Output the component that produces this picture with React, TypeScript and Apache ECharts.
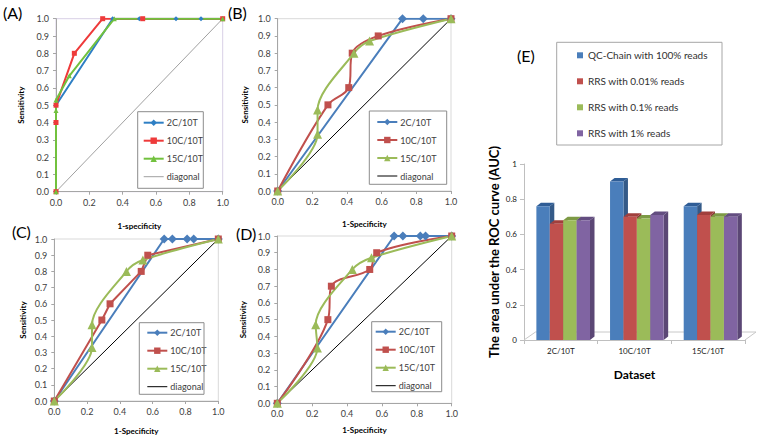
import React, { useEffect, useRef } from 'react';
import * as echarts from 'echarts';

const FONT = 'Lato, "Open Sans", sans-serif';

// ---- ROC data (1-specificity, sensitivity) ----
const A_2C_x = [0, 0, 0.34, 0.5, 0.72, 0.87, 1.0];
const A_2C_y = [0, 0.5, 1.0, 1.0, 1.0, 1.0, 1.0];
const A_10C_x = [0, 0, 0, 0.11, 0.28, 0.52, 1.0];
const A_10C_y = [0, 0.4, 0.5, 0.8, 1.0, 1.0, 1.0];
const A_15C_x = [0, 0, 0, 0.08, 0.35, 1.0];
const A_15C_y = [0, 0.47, 0.53, 0.67, 1.0, 1.0];

const B_2C_x = [0, 0.72, 0.84, 1.0];
const B_2C_y = [0, 1.0, 1.0, 1.0];
const B_10C_x = [0, 0.29, 0.41, 0.43, 0.58, 1.0];
const B_10C_y = [0, 0.5, 0.6, 0.8, 0.9, 1.0];
const B_15C_x = [0, 0.23, 0.23, 0.44, 0.53, 1.0];
const B_15C_y = [0, 0.33, 0.47, 0.8, 0.87, 1.0];

const C_2C_x = [0, 0.67, 0.72, 0.81, 0.85, 1.0];
const C_2C_y = [0, 1.0, 1.0, 1.0, 1.0, 1.0];
const C_10C_x = [0, 0.29, 0.34, 0.53, 0.57, 1.0];
const C_10C_y = [0, 0.5, 0.6, 0.8, 0.9, 1.0];
const C_15C_x = [0, 0.23, 0.23, 0.44, 0.54, 1.0];
const C_15C_y = [0, 0.33, 0.47, 0.8, 0.87, 1.0];

const D_2C_x = [0, 0.67, 0.72, 0.82, 0.85, 1.0];
const D_2C_y = [0, 1.0, 1.0, 1.0, 1.0, 1.0];
const D_10C_x = [0, 0.29, 0.31, 0.53, 0.57, 1.0];
const D_10C_y = [0, 0.5, 0.7, 0.8, 0.9, 1.0];
const D_15C_x = [0, 0.23, 0.22, 0.43, 0.54, 1.0];
const D_15C_y = [0, 0.33, 0.47, 0.8, 0.87, 1.0];

const diagX = [0, 1];
const diagY = [0, 1];

const rocNames = ['2C/10T', '10C/10T', '15C/10T', 'diagonal'];

// ---- AUC data ----
const datasets = ['2C/10T', '10C/10T', '15C/10T'];
const aucNames = ['QC-Chain with 100% reads', 'RRS with 0.01% reads', 'RRS with 0.1% reads', 'RRS with 1% reads'];
const aucQC = [0.76, 0.9, 0.76];
const aucRRS001 = [0.66, 0.7, 0.71];
const aucRRS01 = [0.68, 0.69, 0.7];
const aucRRS1 = [0.68, 0.71, 0.7];

const A_BLUE = '#2e7fc4';
const A_RED = '#ee3a3a';
const A_GREEN = '#72c13e';
const BLUE = '#4a7ebb';
const RED = '#c0504d';
const GREEN = '#9bbb59';

const barFront = ['#4a7ebb', '#c0504d', '#9bbb59', '#8064a2'];
const barSide = ['#345a88', '#8a3836', '#718b3f', '#5b4775'];
const barTop = ['#2f5d96', '#a13f3c', '#7d9a45', '#634d80'];

const grids = [
  { left: 56, top: 18.7, width: 166.7, height: 173 },
  { left: 277.7, top: 18.7, width: 173.3, height: 172.3 },
  { left: 54.3, top: 239, width: 164, height: 162 },
  { left: 277.3, top: 236, width: 174.4, height: 167.3 },
];

// legend frames (x, y, w, h)
const legendBoxes = [
  [137.7, 111.7, 65.6, 76.6],
  [369.3, 111, 77.4, 73.3],
  [139.3, 322.7, 64.7, 71.6],
  [371.7, 321.7, 70, 70],
  [556.7, 42.3, 165.3, 102.7],
];

function rocX(gi: number, name: string, nameGap: number) {
  return {
    type: 'value', gridIndex: gi, min: 0, max: 1, interval: 0.2,
    name, nameLocation: 'middle', nameGap,
    nameTextStyle: { fontFamily: FONT, fontSize: 8, fontWeight: 'bold', color: '#000' },
    axisLine: { show: true, lineStyle: { color: '#a6a6a6' } },
    axisTick: { show: true, length: 3, lineStyle: { color: '#a6a6a6' } },
    axisLabel: { fontFamily: FONT, fontSize: 9, color: '#404040', margin: 6, formatter: (v: number) => v.toFixed(1) },
    splitLine: { show: false },
  };
}
function rocY(gi: number, nameGap: number) {
  return {
    type: 'value', gridIndex: gi, min: 0, max: 1, interval: 0.1,
    name: 'Sensitivity', nameLocation: 'middle', nameGap, nameRotate: 90,
    nameTextStyle: { fontFamily: FONT, fontSize: 8, fontWeight: 'bold', color: '#000' },
    axisLine: { show: true, lineStyle: { color: '#a6a6a6' } },
    axisTick: { show: true, length: 3, lineStyle: { color: '#a6a6a6' } },
    axisLabel: { fontFamily: FONT, fontSize: 9, color: '#404040', margin: 7, formatter: (v: number) => v.toFixed(1) },
    splitLine: { show: false },
  };
}
function roc(name: string, gi: number, xs: number[], ys: number[], color: string, symbol: string, size: number, smooth: number | boolean, width = 2) {
  return {
    type: 'line', name, xAxisIndex: gi, yAxisIndex: gi,
    data: xs.map((x, i) => [x, ys[i]]),
    symbol, symbolSize: size, smooth, showSymbol: symbol !== 'none',
    lineStyle: { color, width },
    itemStyle: { color },
    z: name === 'diagonal' ? 1 : 3,
  };
}
function rocLegend(left: number, top: number, cols: string[], diag: string, pad: number[]) {
  return {
    orient: 'vertical', left, top,
    padding: pad, itemGap: 8, itemWidth: 20, itemHeight: 8,
    borderWidth: 0,
    textStyle: { fontFamily: FONT, fontSize: 9, color: '#404040', lineHeight: 10, padding: [0, 0, 0, -2] },
    data: [
      { name: rocNames[0], itemStyle: { color: cols[0] }, lineStyle: { color: cols[0] } },
      { name: rocNames[1], itemStyle: { color: cols[1] }, lineStyle: { color: cols[1] } },
      { name: rocNames[2], itemStyle: { color: cols[2] }, lineStyle: { color: cols[2] } },
      { name: rocNames[3], itemStyle: { color: diag, opacity: 0 }, lineStyle: { color: diag, width: 1 } },
    ],
    selectedMode: false,
  };
}

const DX = 4.5;
const DY = -3.5;

function bar3d(k: number, name: string, vals: number[]) {
  return {
    type: 'custom', name, xAxisIndex: 4, yAxisIndex: 4,
    itemStyle: { color: barFront[k] },
    data: vals.map((v, i) => [i, v]),
    z: 3,
    renderItem: (params: any, api: any) => {
      const ci = api.value(0);
      const v = api.value(1);
      const base = api.coord([ci, 0]);
      const top = api.coord([ci, v]);
      const band = api.size([1, 0])[0];
      const w = band * 0.182;
      const x = base[0] - band * 0.332 + k * w;
      const yb = base[1];
      const yt = top[1];
      return {
        type: 'group',
        children: [
          { type: 'polygon', shape: { points: [[x + w, yt], [x + w + DX, yt + DY], [x + w + DX, yb + DY], [x + w, yb]] }, style: { fill: barSide[k] } },
          { type: 'polygon', shape: { points: [[x, yt], [x + DX, yt + DY], [x + w + DX, yt + DY], [x + w, yt]] }, style: { fill: barTop[k] } },
          { type: 'rect', shape: { x, y: yt, width: w, height: yb - yt }, style: { fill: barFront[k] } },
        ],
      };
    },
  };
}

const floorSeries = {
  type: 'custom', name: 'floor', xAxisIndex: 4, yAxisIndex: 4, z: 1,
  data: [[0, 0]],
  renderItem: (params: any) => {
    const cs = params.coordSys;
    const yb = cs.y + cs.height;
    return {
      type: 'polyline',
      shape: { points: [[cs.x, yb], [cs.x + 11.5, yb - 8], [cs.x + cs.width + 11, yb - 8], [cs.x + cs.width, yb]] },
      style: { stroke: '#c8c8c8', fill: 'none', lineWidth: 1 },
    };
  },
};

export default function App() {
  const ref = useRef<HTMLDivElement>(null);
  useEffect(() => {
    if (!ref.current) return;
    const chart = echarts.init(ref.current, null, { renderer: 'svg' });
    const frames = legendBoxes.map((b, i) => ({
      type: 'rect', x: b[0], y: b[1], z: 10,
      shape: { width: b[2], height: b[3] },
      style: { fill: 'none', stroke: i === 4 ? '#a6a6a6' : '#8c8c8c', lineWidth: 1 },
    }));
    const option: any = {
      animation: false,
      backgroundColor: '#fff',
      grid: [
        { ...grids[0], show: true, borderColor: '#d8cfe6', borderWidth: 1 },
        { ...grids[1], show: true, borderColor: '#d9d9d9', borderWidth: 1 },
        { ...grids[2], show: true, borderColor: '#d9d9d9', borderWidth: 1 },
        { ...grids[3], show: true, borderColor: '#d9d9d9', borderWidth: 1 },
        { left: 524, top: 164, width: 221, height: 176 },
      ],
      xAxis: [
        rocX(0, '1-specificity', 30),
        rocX(1, '1-Specificity', 29),
        rocX(2, '1-Specificity', 26),
        rocX(3, '1-Specificity', 23),
        {
          type: 'category', gridIndex: 4, data: datasets,
          name: 'Dataset', nameLocation: 'middle', nameGap: 28,
          nameTextStyle: { fontFamily: FONT, fontSize: 12, fontWeight: 'bold', color: '#000' },
          axisLine: { show: true, lineStyle: { color: '#bfbfbf' } },
          axisTick: { show: true, length: 4, alignWithLabel: false, lineStyle: { color: '#bfbfbf' } },
          axisLabel: { fontFamily: FONT, fontSize: 8, color: '#202020', margin: 7 },
        },
      ],
      yAxis: [
        rocY(0, 31),
        rocY(1, 29),
        rocY(2, 27),
        rocY(3, 30),
        {
          type: 'value', gridIndex: 4, min: 0, max: 1, interval: 0.2,
          name: 'The area under the ROC curve (AUC)', nameLocation: 'middle', nameGap: 24, nameRotate: 90,
          nameTextStyle: { fontFamily: FONT, fontSize: 13, fontWeight: 'bold', color: '#000' },
          axisLine: { show: true, lineStyle: { color: '#bfbfbf' } },
          axisTick: { show: true, length: 4, lineStyle: { color: '#bfbfbf' } },
          axisLabel: { fontFamily: FONT, fontSize: 8, color: '#202020', margin: 7 },
          splitLine: { show: false },
        },
      ],
      legend: [
        rocLegend(137.7, 111.7, [A_BLUE, A_RED, A_GREEN], '#a0a0a0', [6, 8, 7, 5]),
        rocLegend(369.3, 111, [BLUE, RED, GREEN], '#000', [6, 8, 7, 7]),
        rocLegend(139.3, 322.7, [BLUE, RED, GREEN], '#000', [5, 8, 5, 7]),
        rocLegend(371.7, 321.7, [BLUE, RED, GREEN], '#000', [5, 8, 5, 3]),
        {
          orient: 'vertical', left: 557, top: 42.3,
          padding: [7, 15, 9, 20], itemGap: 14, itemWidth: 6, itemHeight: 6, icon: 'rect',
          borderWidth: 0,
          textStyle: { fontFamily: FONT, fontSize: 10, color: '#303030', lineHeight: 12 },
          data: aucNames,
          selectedMode: false,
        },
      ],
      graphic: [
        ...frames,
        { type: 'text', left: 3, top: 4, style: { text: '(A)', font: `16px ${FONT}`, fill: '#000' } },
        { type: 'text', left: 228, top: 4, style: { text: '(B)', font: `16px ${FONT}`, fill: '#000' } },
        { type: 'text', left: 12, top: 223, style: { text: '(C)', font: `16px ${FONT}`, fill: '#000' } },
        { type: 'text', left: 236, top: 225, style: { text: '(D)', font: `16px ${FONT}`, fill: '#000' } },
        { type: 'text', left: 517, top: 47.5, style: { text: '(E)', font: `16px ${FONT}`, fill: '#000' } },
      ],
      series: [
        roc('diagonal', 0, diagX, diagY, '#a0a0a0', 'none', 0, false, 1),
        roc('2C/10T', 0, A_2C_x, A_2C_y, A_BLUE, 'diamond', 5, false),
        roc('10C/10T', 0, A_10C_x, A_10C_y, A_RED, 'rect', 5, false),
        roc('15C/10T', 0, A_15C_x, A_15C_y, A_GREEN, 'triangle', 5, false),

        roc('diagonal', 1, diagX, diagY, '#000', 'none', 0, false, 1),
        roc('2C/10T', 1, B_2C_x, B_2C_y, BLUE, 'diamond', 9, false),
        roc('10C/10T', 1, B_10C_x, B_10C_y, RED, 'rect', 7, 0.35),
        roc('15C/10T', 1, B_15C_x, B_15C_y, GREEN, 'triangle', 9, 0.3),

        roc('diagonal', 2, diagX, diagY, '#000', 'none', 0, false, 1),
        roc('2C/10T', 2, C_2C_x, C_2C_y, BLUE, 'diamond', 9, false),
        roc('10C/10T', 2, C_10C_x, C_10C_y, RED, 'rect', 7, false),
        roc('15C/10T', 2, C_15C_x, C_15C_y, GREEN, 'triangle', 9, 0.3),

        roc('diagonal', 3, diagX, diagY, '#000', 'none', 0, false, 1),
        roc('2C/10T', 3, D_2C_x, D_2C_y, BLUE, 'diamond', 9, false),
        roc('10C/10T', 3, D_10C_x, D_10C_y, RED, 'rect', 7, 0.35),
        roc('15C/10T', 3, D_15C_x, D_15C_y, GREEN, 'triangle', 9, 0.3),

        floorSeries,
        bar3d(0, aucNames[0], aucQC),
        bar3d(1, aucNames[1], aucRRS001),
        bar3d(2, aucNames[2], aucRRS01),
        bar3d(3, aucNames[3], aucRRS1),
      ],
    };
    chart.setOption(option);
    return () => chart.dispose();
  }, []);
  return <div ref={ref} style={{ width: 760, height: 436, position: 'absolute', left: 0, top: 0 }} />;
}
